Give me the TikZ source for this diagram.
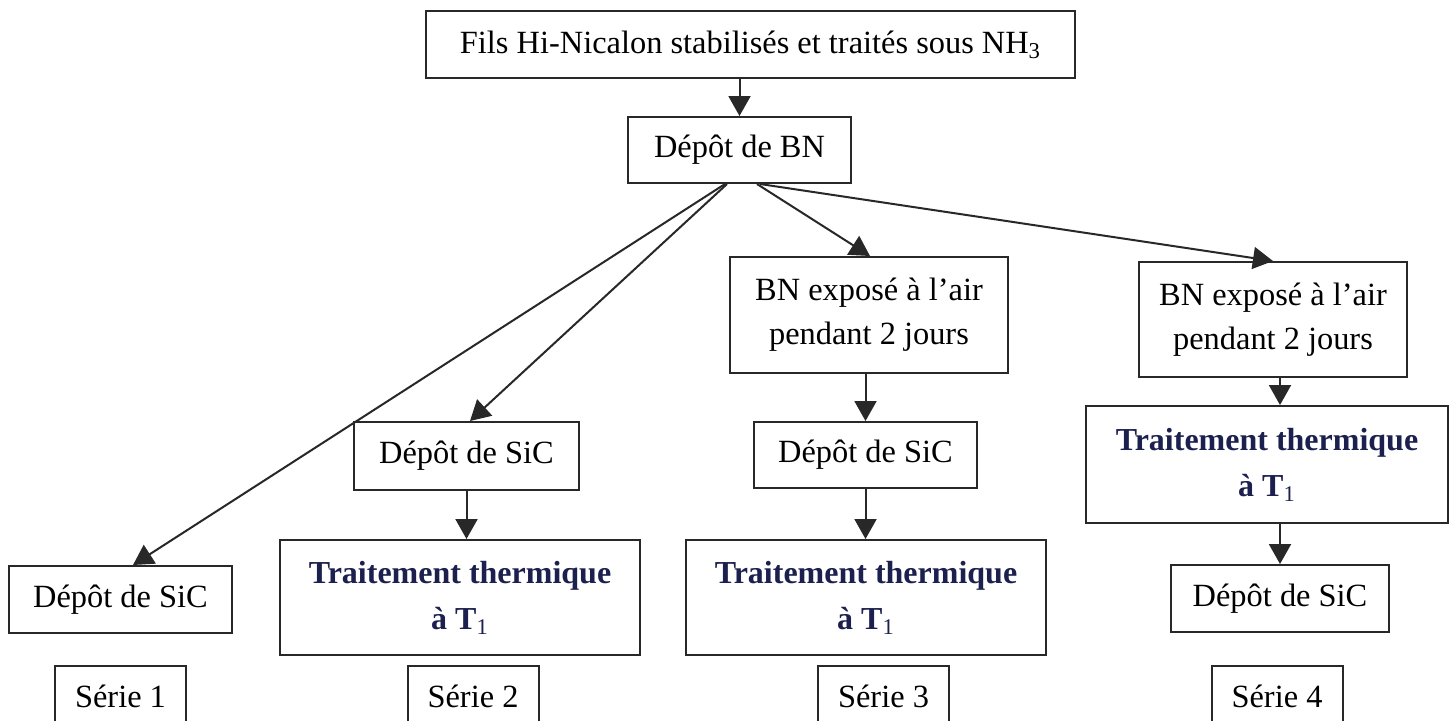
\documentclass[tikz,border=0pt]{standalone}
\usepackage{fontspec}
\setmainfont{Liberation Serif}
\usepackage{tikz}
\usetikzlibrary{positioning, arrows.meta, calc}
\definecolor{traitblue}{RGB}{28,32,78}
\definecolor{linegray}{RGB}{40,40,40}

\begin{document}
\begin{tikzpicture}[
  x=0.5pt, y=-0.5pt,
  box/.style={rectangle, draw=linegray, line width=1pt, fill=white, font=\fontsize{16.2}{22}\selectfont, align=center, inner sep=0pt},
  traitbox/.style={box, text=traitblue, font=\fontsize{16}{23}\selectfont\bfseries, minimum width=180pt, minimum height=57.5pt},
  seriebox/.style={box, minimum width=65.5pt, minimum height=30pt},
  arrow/.style={draw=linegray, line width=1pt, -{Triangle[length=10pt, width=11pt]}},
]
  \clip (0,0) rectangle (1456,720);
  \fill[white] (0,0) rectangle (1456,720);

  % top of the chain
  \node[box, minimum width=324.5pt, minimum height=33.5pt] (fils) at (750.5,44.5) {Fils Hi-Nicalon stabilisés et traités sous NH\textsubscript{3}};
  \node[box, minimum width=111.5pt, minimum height=33pt] (bn) at (739.5,150) {Dépôt de BN};

  % serie 1
  \node[box, minimum width=111.5pt, minimum height=33.5pt] (sic1) at (120.5,599.5) {Dépôt de SiC};
  \node[seriebox] (serie1) at (120.5,696) {Série 1};

  % serie 2
  \node[box, minimum width=112.5pt, minimum height=34pt] (sic2) at (466.5,456) {Dépôt de SiC};
  \node[traitbox] (trait2) at (460,597.5) {Traitement thermique\\à T\textsubscript{\mdseries 1}};
  \node[seriebox] (serie2) at (473,696) {Série 2};

  % serie 3
  \node[box, minimum width=139pt, minimum height=58pt] (air3) at (869,315) {BN exposé à l’air\\pendant 2 jours};
  \node[box, minimum width=111.5pt, minimum height=33pt] (sic3) at (865.5,455) {Dépôt de SiC};
  \node[traitbox] (trait3) at (866,597.5) {Traitement thermique\\à T\textsubscript{\mdseries 1}};
  \node[seriebox] (serie3) at (883.5,696) {Série 3};

  % serie 4
  \node[box, minimum width=134pt, minimum height=57.5pt] (air4) at (1273,319.5) {BN exposé à l’air\\pendant 2 jours};
  \node[traitbox, minimum width=181pt, minimum height=58.5pt] (trait4) at (1267,464.5) {Traitement thermique\\à T\textsubscript{\mdseries 1}};
  \node[box, minimum width=109pt, minimum height=33.5pt] (sic4) at (1280,598.5) {Dépôt de SiC};
  \node[seriebox] (serie4) at (1277,696) {Série 4};

  % connectors
  \draw[arrow] (bn.north |- fils.south) -- (bn.north);
  \draw[arrow] ([xshift=-7.25pt]bn.south) -- ([xshift=6.25pt]sic1.north);
  \draw[arrow] ([xshift=-6.25pt]bn.south) -- ([xshift=1.75pt]sic2.north);
  \draw[arrow] ([xshift=8.75pt]bn.south) -- ([xshift=0.5pt]air3.north);
  \draw[arrow] ([xshift=10.25pt]bn.south) -- (air4.north);
  \draw[arrow] (sic2.south) -- (sic2.south |- trait2.north);
  \draw[arrow] (sic3.north |- air3.south) -- (sic3.north);
  \draw[arrow] (sic3.south) -- (sic3.south |- trait3.north);
  \draw[arrow] (sic4.north |- air4.south) -- (sic4.north |- trait4.north);
  \draw[arrow] (sic4.north |- trait4.south) -- (sic4.north);
\end{tikzpicture}
\end{document}
